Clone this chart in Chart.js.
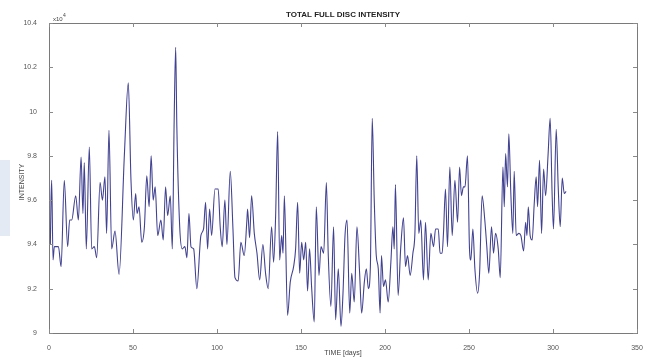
<!DOCTYPE html>
<html>
<head>
<meta charset="utf-8">
<script src="https://cdn.jsdelivr.net/npm/chart.js@4.4.1/dist/chart.umd.min.js"></script>
<style>
  html, body { margin: 0; padding: 0; background: #fff; }
  #wrap { position: relative; width: 648px; height: 360px; }
  #sidebox { position: absolute; left: 0; top: 160px; width: 10px; height: 76px; background: #e4eaf4; }
  canvas { position: absolute; left: 0; top: 0; }
</style>
</head>
<body>
<div id="wrap">
  <div id="sidebox"></div>
  <canvas id="intensityChart" width="648" height="360"></canvas>
</div>
<script>
// ---- data (days, intensity in units of 10^4) ----
const TITLE = 'TOTAL FULL DISC INTENSITY';
const X_LABEL = 'TIME [days]';
const Y_LABEL = 'INTENSITY';
const Y_EXPONENT = 'x10';

const X_TICKS = [0, 50, 100, 150, 200, 250, 300, 350];
const Y_TICKS = [9, 9.2, 9.4, 9.6, 9.8, 10, 10.2, 10.4];

const days = [
  0.8, 1.2, 1.6, 2.4, 3.2, 5.6, 7.2, 9.1, 11.1, 12.3, 13.5, 15.9, 17.5, 19.1, 20.2, 21.0, 22.2, 24.0, 25.4, 27.0,
  28.4, 30.4, 31.8, 33.3, 34.3, 35.7, 37.3, 39.3, 41.7, 44.9, 47.2, 48.8, 50.2, 51.6, 52.4, 53.6, 55.2, 56.8, 58.2,
  59.6, 60.8, 62.0, 63.2, 64.7, 66.6, 68.0, 69.4, 70.6, 72.2, 73.4, 74.5, 75.4, 76.1, 77.8, 79.3, 80.9, 82.1, 83.3,
  84.5, 86.1, 88.0, 90.4, 92.0, 93.2, 94.4, 95.6, 96.8, 98.8, 100.7, 101.9, 103.1, 104.7, 105.9, 107.9, 109.5, 110.7,
  112.6, 114.2, 116.2, 117.8,
  118.2, 119.4, 120.6, 122.2, 123.8, 125.4, 127.3, 128.9, 130.5, 132.5, 133.7, 134.9, 136.1, 137.3, 138.5, 139.3,
  140.1, 142.0, 143.6, 145.6, 146.8, 148.0, 149.2, 150.4, 151.6, 152.8, 153.9, 155.1, 156.3, 157.9, 159.1, 160.7,
  161.9, 163.5, 165.1, 166.2, 167.8, 169.4, 170.6, 172.2, 173.8, 175.0, 176.2, 177.4,
  179.0, 180.2, 181.7, 183.3, 184.9, 186.1, 187.7, 188.9, 190.1, 191.3, 192.4, 193.6, 194.8, 196.0, 197.1, 197.9,
  199.1, 200.3, 201.9, 203.5, 204.7, 205.5, 206.2, 207.8, 209.4, 211.0, 212.2, 213.4, 215.0, 216.6, 217.8, 218.9,
  220.1, 221.3, 222.9, 224.1, 225.7, 227.3, 228.9, 230.1, 231.7, 232.8, 234.0, 234.8, 236.0, 237.2, 238.6,
  240.0, 241.6, 243.2, 244.4, 245.5, 246.7, 247.6, 249.1, 250.3, 251.1, 252.3, 253.5, 255.1, 256.3, 257.8, 259.4,
  260.6, 261.8, 263.4, 264.6, 265.8, 267.4, 268.6, 270.2, 271.0, 271.8, 272.9, 273.7, 274.9, 276.1, 276.9, 278.1,
  279.7, 280.9, 282.5, 283.7, 284.5, 285.3, 286.4, 287.6, 288.8, 290.0, 290.8, 292.0, 293.2, 294.4, 295.6, 297.1,
  298.3, 299.5, 300.3, 301.9, 303.1, 304.3, 305.5, 306.7, 307.8
];

const intensity = [
  9.40, 9.60, 9.69, 9.33, 9.39, 9.39, 9.30, 9.69, 9.39, 9.51, 9.51, 9.62, 9.51, 9.795, 9.54, 9.77, 9.38, 9.84, 9.38, 9.39,
  9.34, 9.68, 9.60, 9.705, 9.45, 9.915, 9.38, 9.46, 9.265, 9.81, 10.13, 9.69, 9.51, 9.63, 9.54, 9.57, 9.41, 9.48, 9.71,
  9.57, 9.80, 9.60, 9.66, 9.44, 9.51, 9.42, 9.66, 9.53, 9.62, 9.38, 9.96, 10.29, 9.93, 9.48, 9.38, 9.39, 9.34, 9.54,
  9.39, 9.38, 9.20, 9.44, 9.47, 9.59, 9.38, 9.56, 9.44, 9.65, 9.65, 9.48, 9.39, 9.60, 9.40, 9.73, 9.47, 9.25,
  9.235, 9.41, 9.35, 9.51,
  9.56, 9.43, 9.62, 9.45, 9.36, 9.24, 9.40, 9.27, 9.20, 9.48, 9.32, 9.53, 9.91, 9.33, 9.44, 9.36,
  9.62, 9.08, 9.23, 9.30, 9.38, 9.59, 9.27, 9.41, 9.33, 9.41, 9.19, 9.38, 9.21, 9.05, 9.57, 9.26,
  9.39, 9.36, 9.68, 9.36, 9.12, 9.48, 9.06, 9.29, 9.03, 9.18, 9.44, 9.51,
  9.09, 9.27, 9.14, 9.48, 9.27, 9.09, 9.23, 9.29, 9.20, 9.30, 9.97, 9.60, 9.35, 9.29, 9.09, 9.35,
  9.21, 9.24, 9.14, 9.32, 9.48, 9.38, 9.67, 9.17, 9.39, 9.52, 9.30, 9.35, 9.26, 9.36, 9.45, 9.80,
  9.45, 9.51, 9.24, 9.50, 9.24, 9.45, 9.39, 9.47, 9.47, 9.36, 9.36, 9.45, 9.65, 9.39, 9.75,
  9.44, 9.69, 9.50, 9.75, 9.62, 9.66, 9.66, 9.80, 9.38, 9.33, 9.47, 9.29, 9.18, 9.27, 9.62, 9.51,
  9.39, 9.27, 9.48, 9.36, 9.45, 9.38, 9.25, 9.75, 9.57, 9.81, 9.66, 9.90, 9.63, 9.45, 9.73, 9.44,
  9.45, 9.44, 9.37, 9.50, 9.44, 9.57, 9.44, 9.42, 9.58, 9.705, 9.57, 9.78, 9.45, 9.74, 9.62, 9.81,
  9.97, 9.62, 9.47, 9.92, 9.66, 9.48, 9.70, 9.63, 9.64
];

const points = days.map((d, i) => ({ x: d, y: intensity[i] }));

// MATLAB style box: frame, inward ticks, titles
const matlabFrame = {
  id: 'matlabFrame',
  afterDraw(chart) {
    const { ctx, chartArea: a, scales: { x, y } } = chart;
    ctx.save();
    ctx.strokeStyle = '#7a7a7a';
    ctx.lineWidth = 1;
    ctx.strokeRect(a.left + 0.5, a.top + 0.5, a.right - a.left, a.bottom - a.top);

    ctx.strokeStyle = '#8a8a8a';
    ctx.beginPath();
    X_TICKS.forEach(v => {
      const px = Math.round(x.getPixelForValue(v)) + 0.5;
      ctx.moveTo(px, a.bottom); ctx.lineTo(px, a.bottom - 4);
      ctx.moveTo(px, a.top); ctx.lineTo(px, a.top + 4);
    });
    Y_TICKS.forEach(v => {
      const py = Math.round(y.getPixelForValue(v)) + 0.5;
      ctx.moveTo(a.left, py); ctx.lineTo(a.left + 4, py);
      ctx.moveTo(a.right, py); ctx.lineTo(a.right - 4, py);
    });
    ctx.stroke();

    const cx = (a.left + a.right) / 2;
    ctx.fillStyle = '#222';
    ctx.textAlign = 'center';
    ctx.textBaseline = 'middle';
    ctx.font = 'bold 8px "Liberation Sans", Arial, sans-serif';
    ctx.fillText(TITLE, cx, 15);

    ctx.font = '7px "Liberation Sans", Arial, sans-serif';
    ctx.fillStyle = '#444';
    ctx.fillText(X_LABEL, cx, 353);

    ctx.save();
    ctx.translate(22, (a.top + a.bottom) / 2 + 4);
    ctx.rotate(-Math.PI / 2);
    ctx.fillText(Y_LABEL, 0, 0);
    ctx.restore();

    ctx.textAlign = 'left';
    ctx.font = '6px "Liberation Sans", Arial, sans-serif';
    ctx.fillText(Y_EXPONENT, a.left + 4, a.top - 4);
    ctx.font = '5px "Liberation Sans", Arial, sans-serif';
    ctx.fillText('4', a.left + 14, a.top - 7);
    ctx.restore();
  }
};

new Chart(document.getElementById('intensityChart'), {
  type: 'line',
  data: {
    datasets: [{
      label: 'Intensity',
      data: points,
      borderColor: 'rgb(66, 66, 146)',
      borderWidth: 1.1,
      pointRadius: 0,
      cubicInterpolationMode: 'monotone',
      fill: false
    }]
  },
  options: {
    responsive: false,
    animation: false,
    devicePixelRatio: 1,
    layout: { padding: { top: 23, right: 11, left: 0, bottom: 0 } },
    plugins: {
      legend: { display: false },
      tooltip: { enabled: false }
    },
    scales: {
      x: {
        type: 'linear',
        min: 0,
        max: 350,
        afterFit: s => { s.height = 27; },
        afterBuildTicks: s => { s.ticks = X_TICKS.map(v => ({ value: v })); },
        grid: { display: false },
        border: { display: false },
        ticks: {
          padding: 3,
          color: '#555',
          font: { family: 'Liberation Sans', size: 7 },
          maxRotation: 0
        }
      },
      y: {
        min: 9,
        max: 10.4,
        afterFit: s => { s.width = 49; },
        afterBuildTicks: s => { s.ticks = Y_TICKS.map(v => ({ value: v })); },
        grid: { display: false },
        border: { display: false },
        ticks: {
          padding: 4,
          color: '#555',
          font: { family: 'Liberation Sans', size: 7 },
          callback: v => String(Number(v.toFixed(1)))
        }
      }
    }
  },
  plugins: [matlabFrame]
});
</script>
</body>
</html>
